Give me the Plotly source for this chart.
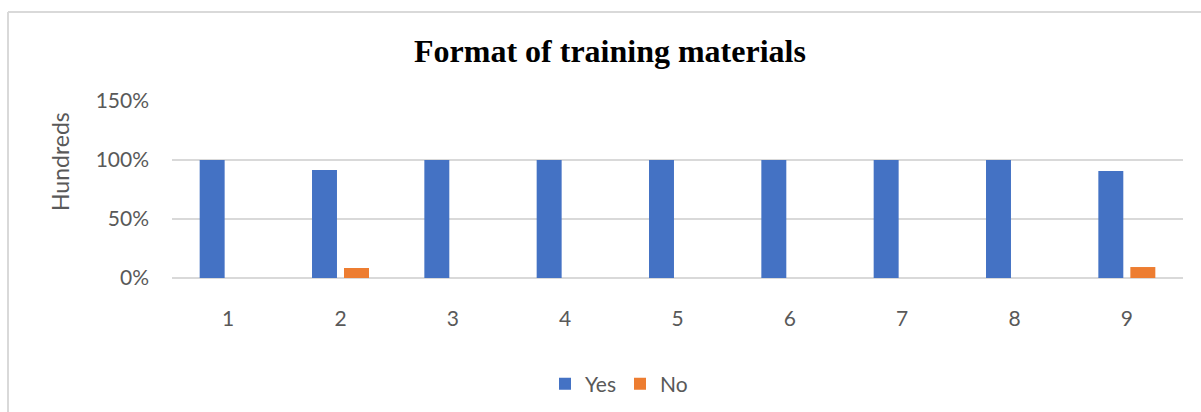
import plotly.graph_objects as go

categories = ["1", "2", "3", "4", "5", "6", "7", "8", "9"]
yes_values = [1.0, 0.915, 1.0, 1.0, 1.0, 1.0, 1.0, 1.0, 0.907]
no_values = [0.0, 0.085, 0.0, 0.0, 0.0, 0.0, 0.0, 0.0, 0.093]
y_ticks = [0, 0.5, 1.0, 1.5]

W, H = 1201, 412
L, R, T, B = 172, 18, 101, 134
pw, ph = W - L - R, H - T - B

def px_x(x):
    return (x - L) / pw

def px_y(y):
    return (H - B - y) / ph

fig = go.Figure()
fig.add_trace(go.Bar(name="Yes", x=categories, y=yes_values, marker_color="#4472C4",
                     marker_line_width=0))
fig.add_trace(go.Bar(name="No", x=categories, y=no_values, marker_color="#ED7D31",
                     marker_line_width=0))

font_main = "Lato, 'Open Sans', sans-serif"

fig.update_layout(
    width=W, height=H,
    margin=dict(l=L, r=R, t=T, b=B, autoexpand=False),
    paper_bgcolor="white", plot_bgcolor="white",
    barmode="group", bargap=0.43, bargroupgap=0.22,
    font=dict(family=font_main, size=21, color="#595959"),
    showlegend=True,
    legend=dict(orientation="h", x=px_x(545), xanchor="left", y=px_y(384), yanchor="middle",
                font=dict(size=21, color="#595959"), itemwidth=30, traceorder="normal",
                entrywidth=30, entrywidthmode="pixels",
                bgcolor="rgba(0,0,0,0)"),
    xaxis=dict(type="category", showgrid=False, showline=False, ticks="",
               tickfont=dict(size=21, color="#595959"), ticklabelstandoff=26),
    yaxis=dict(range=[0, 1.5], tickvals=y_ticks, tickformat=".0%",
               showgrid=True, gridcolor="#d9d9d9", gridwidth=1.5,
               zeroline=True, zerolinecolor="#d9d9d9", zerolinewidth=1.5,
               showline=False, ticks="", ticklabelstandoff=22,
               tickfont=dict(size=21, color="#595959")),
    annotations=[
        dict(text="<b>Format of training materials</b>", xref="paper", yref="paper",
             x=px_x(610), y=px_y(51), xanchor="center", yanchor="middle", showarrow=False,
             font=dict(family="'Liberation Serif', 'Times New Roman', serif", size=32, color="black")),
        dict(text="Hundreds", xref="paper", yref="paper", textangle=-90,
             x=px_x(60), y=px_y(162), xanchor="center", yanchor="middle", showarrow=False,
             font=dict(family=font_main, size=23, color="#595959")),
    ],
    shapes=[
        dict(type="line", xref="paper", yref="paper", x0=px_x(8), x1=px_x(1210),
             y0=px_y(12), y1=px_y(12), line=dict(color="#d9d9d9", width=2)),
        dict(type="line", xref="paper", yref="paper", x0=px_x(8), x1=px_x(8),
             y0=px_y(12), y1=px_y(420), line=dict(color="#d9d9d9", width=2)),
    ],
)

fig.write_html("out.html")
